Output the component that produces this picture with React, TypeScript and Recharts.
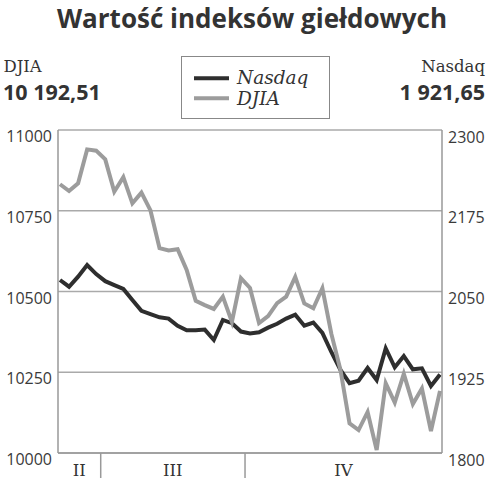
import React from 'react';
import { LineChart, Line, XAxis, YAxis, CartesianGrid } from 'recharts';

const nasdaq = [
  2067.8, 2057.4, 2073, 2091, 2077, 2066, 2060, 2054, 2037, 2020, 2015, 2010, 2008, 1997,
  1990, 1990, 1991, 1975, 2006, 2001, 1988, 1985, 1987, 1994, 2000, 2008, 2014, 1997,
  2002, 1986, 1956, 1928.5, 1908, 1912, 1931.6, 1913, 1962, 1932.7, 1950, 1929.6, 1931,
  1903.7, 1921.65,
];
const djia = [
  10832, 10811, 10835, 10940, 10936, 10909, 10809, 10854, 10773, 10806, 10751, 10634, 10627,
  10631, 10567, 10471, 10458, 10446, 10484, 10406, 10541, 10511, 10402, 10424, 10464, 10484,
  10545, 10463, 10448, 10510, 10368, 10257, 10092, 10071, 10127, 10009, 10216, 10156, 10245,
  10152, 10200, 10068, 10192.51,
];
const leftTicks = [10000, 10250, 10500, 10750, 11000];
const rightTicks = [1800, 1925, 2050, 2175, 2300];
const quarterLabels = ['II', 'III', 'IV'];
const quarterCenters = [2.14, 12.47, 31.33];
const quarterBounds = [4.5, 20.45];

const title = 'Wartość indeksów giełdowych';
const lastDjia = '10 192,51';
const lastNasdaq = '1 921,65';

const data = nasdaq.map((n, i) => ({ i, nasdaq: n, djia: djia[i] }));

const SANS = '"Open Sans", sans-serif';
const SERIF = '"DejaVu Serif", serif';

const LeftTick = (props: any) => {
  const { x, y, payload } = props;
  return (
    <text x={x} y={y + 12} textAnchor="end" fontFamily={SANS} fontSize={16} fill="#3a3a3a">
      {payload.value}
    </text>
  );
};

const RightTick = (props: any) => {
  const { x, y, payload } = props;
  return (
    <text x={x} y={y + 12.5} textAnchor="start" fontFamily={SANS} fontSize={16} fill="#3a3a3a">
      {payload.value}
    </text>
  );
};

const QuarterTick = (props: any) => {
  const { x, y, payload } = props;
  const v = payload.value;
  if (quarterBounds.includes(v)) {
    return <line x1={x} x2={x} y1={y} y2={y + 25} stroke="#999" strokeWidth={1.5} />;
  }
  const idx = quarterCenters.indexOf(v);
  return (
    <text x={x} y={y + 23} textAnchor="middle" fontFamily={SERIF} fontSize={16.5} fill="#333">
      {quarterLabels[idx]}
    </text>
  );
};

export default function App() {
  return (
    <div style={{ position: 'absolute', left: 0, top: 0, width: 492, height: 480, background: '#fff' }}>
      <LineChart
        width={492}
        height={480}
        data={data}
        margin={{ top: 130, right: 0, bottom: 0, left: 0 }}
      >
        <CartesianGrid
          yAxisId="left"
          vertical={false}
          stroke="#aaa"
          strokeWidth={1.3}
        />
        <XAxis
          dataKey="i"
          type="number"
          domain={[0, 42]}
          padding={{ left: 2, right: 2 }}
          ticks={[quarterCenters[0], quarterBounds[0], quarterCenters[1], quarterBounds[1], quarterCenters[2]]}
          tick={<QuarterTick />}
          tickLine={false}
          tickSize={0}
          tickMargin={0}
          axisLine={{ stroke: '#999', strokeWidth: 1.5 }}
          height={27}
          interval={0}
        />
        <YAxis
          yAxisId="left"
          orientation="left"
          domain={[10000, 11000]}
          ticks={leftTicks}
          tick={<LeftTick />}
          tickLine={false}
          tickSize={0}
          tickMargin={6}
          axisLine={{ stroke: '#999', strokeWidth: 1.5 }}
          width={58}
          interval={0}
        />
        <YAxis
          yAxisId="right"
          orientation="right"
          domain={[1800, 2300]}
          ticks={rightTicks}
          tick={<RightTick />}
          tickLine={false}
          tickSize={0}
          tickMargin={6}
          axisLine={{ stroke: '#999', strokeWidth: 1.5 }}
          width={50}
          interval={0}
        />
        <Line
          yAxisId="right"
          dataKey="nasdaq"
          type="linear"
          stroke="#2e2e2e"
          strokeWidth={4}
          dot={false}
          isAnimationActive={false}
        />
        <Line
          yAxisId="left"
          dataKey="djia"
          type="linear"
          stroke="#9c9c9c"
          strokeWidth={4}
          dot={false}
          isAnimationActive={false}
        />
      </LineChart>
      <svg
        width={492}
        height={125}
        style={{ position: 'absolute', left: 0, top: 0, pointerEvents: 'none' }}
      >
        <text x={252} y={27.5} textAnchor="middle" fontFamily={SANS} fontWeight={700} fontSize={26} fill="#333">
          {title}
        </text>
        <text x={3.5} y={71.7} fontFamily={SERIF} fontSize={16.5} fill="#333">DJIA</text>
        <text x={3} y={100} fontFamily={SANS} fontWeight={700} fontSize={21.5} fill="#333">{lastDjia}</text>
        <text x={485} y={71.7} textAnchor="end" fontFamily={SERIF} fontSize={16.5} fill="#333">Nasdaq</text>
        <text x={485} y={100} textAnchor="end" fontFamily={SANS} fontWeight={700} fontSize={21.5} fill="#333">{lastNasdaq}</text>
        <rect x={181.5} y={56.5} width={148} height={62} fill="#fff" stroke="#888" strokeWidth={1} />
        <line x1={194} x2={229} y1={78.3} y2={78.3} stroke="#2e2e2e" strokeWidth={4} />
        <text x={237} y={84} fontFamily={SERIF} fontStyle="italic" fontSize={18.5} fill="#333">Nasdaq</text>
        <line x1={194} x2={229} y1={98.3} y2={98.3} stroke="#9c9c9c" strokeWidth={4} />
        <text x={237} y={105} fontFamily={SERIF} fontStyle="italic" fontSize={18.5} fill="#333">DJIA</text>
      </svg>
    </div>
  );
}
